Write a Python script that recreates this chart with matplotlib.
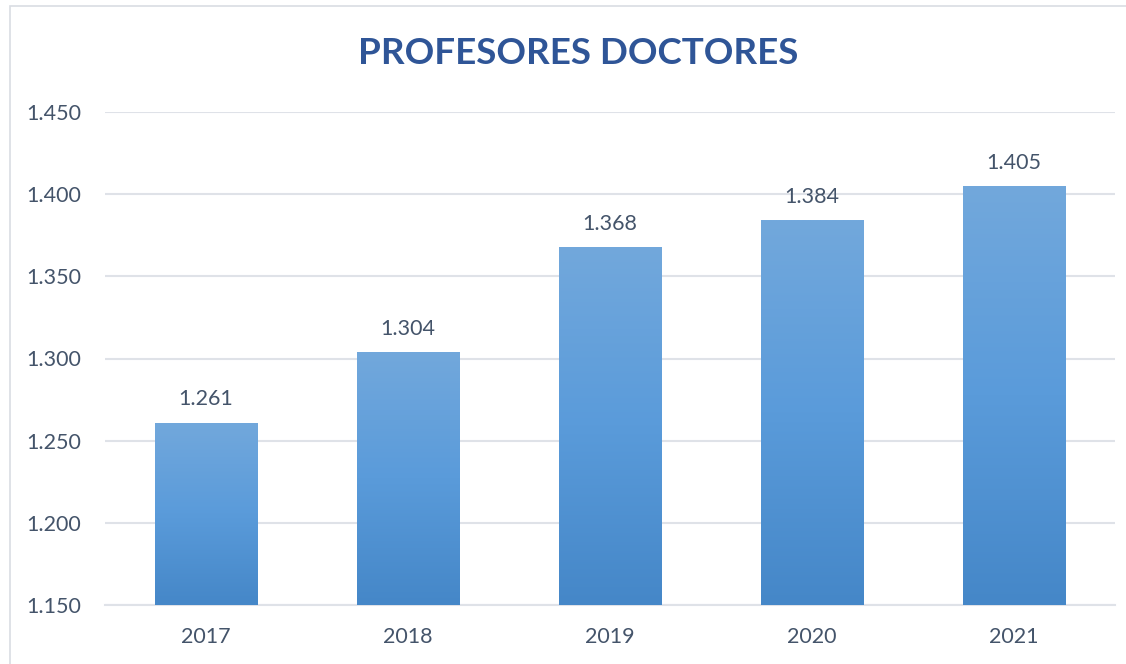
"""
Bar chart: number of doctoral professors per year (2017-2021).
"""
import numpy as np
import matplotlib.pyplot as plt
from matplotlib.patches import Rectangle
from matplotlib.colors import LinearSegmentedColormap
from matplotlib.ticker import FuncFormatter

YEARS = ["2017", "2018", "2019", "2020", "2021"]
PROFESSORS = [1261, 1304, 1368, 1384, 1405]
Y_TICKS = [1150, 1200, 1250, 1300, 1350, 1400, 1450]

TEXT_COLOR = "#44546A"
TITLE_COLOR = "#2F5597"
GRID_COLOR = "#DFE2E8"


def es_thousands(v, pos=None):
    # Spanish style: 1.261
    return f"{int(round(v)):,}".replace(",", ".")


def main() -> None:
    plt.rcParams["font.family"] = ["Lato", "DejaVu Sans"]

    W, H = 1126, 664
    fig = plt.figure(figsize=(W / 100, H / 100), dpi=100)
    ax = fig.add_axes([105 / W, 1 - 605 / H, (1115 - 105) / W, (605 - 112) / H])

    # light chart border
    fig.patches.append(Rectangle((10 / W, -0.05), 1.2, 1.05 - 6 / H,
                                 transform=fig.transFigure, fill=False,
                                 edgecolor="#D9DDE3", linewidth=1.2))

    x = np.arange(len(YEARS))
    bars = ax.bar(x, PROFESSORS, width=0.505, color="#5B9BD5", zorder=2)

    # vertical gradient inside each bar
    cmap = LinearSegmentedColormap.from_list(
        "bar_grad", ["#4587C8", "#5A9BDA", "#72A8DC"])
    grad = np.linspace(0, 1, 256).reshape(-1, 1)
    for b in bars:
        x0, w = b.get_x(), b.get_width()
        y0, h = Y_TICKS[0], b.get_height() + b.get_y() - Y_TICKS[0]
        im = ax.imshow(grad, cmap=cmap, origin="lower", aspect="auto",
                       extent=(x0, x0 + w, y0, y0 + h), zorder=3)
        im.set_clip_path(b)

    for xi, v in zip(x, PROFESSORS):
        ax.annotate(es_thousands(v), (xi, v), xytext=(0, 9.5),
                    textcoords="offset points", ha="center", va="bottom",
                    fontsize=15.5, color=TEXT_COLOR)

    ax.set_xlim(-0.5, len(YEARS) - 0.5)
    ax.set_ylim(Y_TICKS[0], Y_TICKS[-1])
    ax.set_yticks(Y_TICKS)
    ax.yaxis.set_major_formatter(FuncFormatter(es_thousands))
    ax.set_xticks(x)
    ax.set_xticklabels(YEARS)
    ax.tick_params(axis="both", length=0, labelsize=15.5, colors=TEXT_COLOR)
    ax.tick_params(axis="y", pad=17)
    ax.tick_params(axis="x", pad=16)

    ax.grid(axis="y", color=GRID_COLOR, linewidth=1.5, zorder=0)
    ax.set_axisbelow(True)
    for s in ("top", "right", "left"):
        ax.spines[s].set_visible(False)
    ax.spines["bottom"].set_color(GRID_COLOR)
    ax.spines["bottom"].set_linewidth(1.5)

    fig.text(578 / W, 1 - 54 / H, "PROFESORES DOCTORES", ha="center",
             va="center", fontsize=26.5, fontweight="bold", color=TITLE_COLOR)

    fig.savefig("out.png", dpi=100)
    plt.close(fig)


if __name__ == "__main__":
    main()
